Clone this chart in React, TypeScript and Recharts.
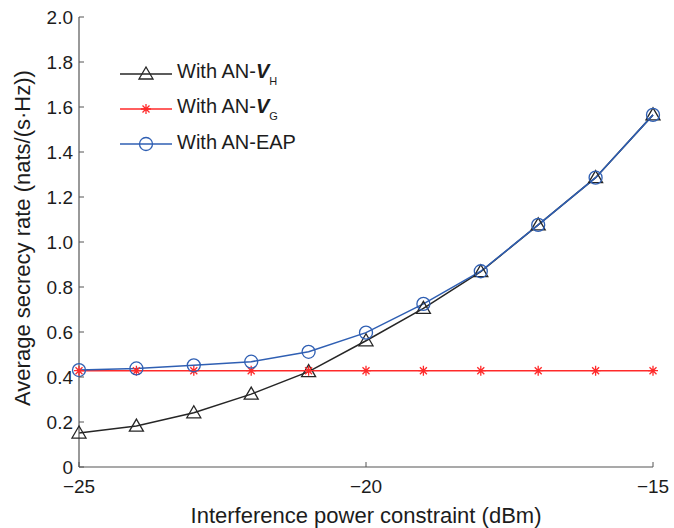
import React from 'react'
import { LineChart, Line, XAxis, YAxis, Legend, Label } from 'recharts'

const powerDbm = [-25, -24, -23, -22, -21, -20, -19, -18, -17, -16, -15]
const rateVH = [0.151, 0.182, 0.241, 0.324, 0.424, 0.561, 0.705, 0.868, 1.076, 1.286, 1.565]
const rateVG = [0.428, 0.428, 0.428, 0.428, 0.428, 0.428, 0.428, 0.428, 0.428, 0.428, 0.428]
const rateEAP = [0.431, 0.438, 0.452, 0.468, 0.512, 0.597, 0.725, 0.870, 1.076, 1.286, 1.565]

const xTicks = [-25, -20, -15]
const yTicks = [0, 0.2, 0.4, 0.6, 0.8, 1.0, 1.2, 1.4, 1.6, 1.8, 2.0]

const FONT = "'Liberation Sans', Arial, Helvetica, sans-serif"
const INK = '#1c1c1c'
const AXIS = '#555'
const BLACK = '#262626'
const RED = '#ff2a2a'
const BLUE = '#2f5fb3'

const data = powerDbm.map((p, i) => ({ p, vh: rateVH[i], vg: rateVG[i], eap: rateEAP[i] }))

const fmtX = (v: number) => (v < 0 ? '\u2212' + Math.abs(v) : String(v))
const fmtY = (v: number) => (v === 0 ? '0' : v.toFixed(1))

const LeftTick = ({ x, y, payload }: any) => (
  <g>
    <line x1={x + 6} x2={x + 11} y1={y} y2={y} stroke={AXIS} strokeWidth={1} />
    <text x={x} y={y} dy="0.36em" textAnchor="end" fontSize={19} fontFamily={FONT} fill={INK}>
      {fmtY(payload.value)}
    </text>
  </g>
)

const BottomTick = ({ x, y, payload }: any) => (
  <g>
    <line x1={x} x2={x} y1={y - 8} y2={y - 13} stroke={AXIS} strokeWidth={1} />
    <text x={x} y={y} dy="0.95em" textAnchor="middle" fontSize={19} fontFamily={FONT} fill={INK}>
      {fmtX(payload.value)}
    </text>
  </g>
)

const TopTick = ({ x, y }: any) => <line x1={x} x2={x} y1={y} y2={y + 5} stroke={AXIS} strokeWidth={1} />
const RightTick = ({ x, y }: any) => <line x1={x - 5} x2={x} y1={y} y2={y} stroke={AXIS} strokeWidth={1} />

const triangle = (cx: number, cy: number, color: string) =>
  `M${cx},${cy - 7} L${cx - 7},${cy + 5} L${cx + 7},${cy + 5} Z`

const TriangleDot = (props: any) => {
  const { cx, cy, index } = props
  if (cx == null || cy == null) return <g key={`t${index}`} />
  return <path key={`t${index}`} d={triangle(cx, cy, BLACK)} fill="none" stroke={BLACK} strokeWidth={1.3} />
}

const CircleDot = (props: any) => {
  const { cx, cy, index } = props
  if (cx == null || cy == null) return <g key={`c${index}`} />
  return <circle key={`c${index}`} cx={cx} cy={cy} r={6.5} fill="none" stroke={BLUE} strokeWidth={1.3} />
}

const starPath = (cx: number, cy: number) => {
  const r = 5
  const d = r * 0.7
  return `M${cx - r},${cy} L${cx + r},${cy} M${cx},${cy - r} L${cx},${cy + r} M${cx - d},${cy - d} L${cx + d},${cy + d} M${cx - d},${cy + d} L${cx + d},${cy - d}`
}

const StarDot = (props: any) => {
  const { cx, cy, index } = props
  if (cx == null || cy == null) return <g key={`s${index}`} />
  return <path key={`s${index}`} d={starPath(cx, cy)} fill="none" stroke={RED} strokeWidth={1.3} />
}

const legendRows = [
  { key: 'vh', color: BLACK, marker: 'tri', base: 'With AN-', v: true, sub: 'H' },
  { key: 'vg', color: RED, marker: 'star', base: 'With AN-', v: true, sub: 'G' },
  { key: 'eap', color: BLUE, marker: 'circle', base: 'With AN-EAP', v: false, sub: '' },
]

const LegendBox = () => (
  <div style={{ fontFamily: FONT, fontSize: 20, color: INK }}>
    {legendRows.map((r) => (
      <div key={r.key} style={{ display: 'flex', alignItems: 'center', height: 35 }}>
        <svg width={52} height={20} style={{ marginRight: 5 }}>
          <line x1={0} x2={52} y1={10} y2={10} stroke={r.color} strokeWidth={1.5} />
          {r.marker === 'tri' && <path d={triangle(26, 10, BLACK)} fill="none" stroke={BLACK} strokeWidth={1.3} />}
          {r.marker === 'star' && <path d={starPath(26, 10)} fill="none" stroke={RED} strokeWidth={1.3} />}
          {r.marker === 'circle' && <circle cx={26} cy={10} r={6.5} fill="none" stroke={BLUE} strokeWidth={1.3} />}
        </svg>
        <span style={{ lineHeight: '20px', marginTop: -3 }}>
          {r.base}
          {r.v && <b><i>V</i></b>}
          {r.sub && <span style={{ fontSize: 11, position: 'relative', top: 7 }}>{r.sub}</span>}
        </span>
      </div>
    ))}
  </div>
)

export default function App() {
  return (
    <div style={{ position: 'absolute', left: 0, top: 0, background: '#fff' }}>
      <LineChart width={674} height={528} data={data} margin={{ top: 17, right: 21, bottom: 0, left: 0 }}>
        <XAxis
          dataKey="p"
          type="number"
          domain={[-25, -15]}
          ticks={xTicks}
          height={61}
          tickSize={0}
          tickMargin={8}
          tickLine={false}
          tick={<BottomTick />}
          axisLine={{ stroke: AXIS, strokeWidth: 1.2 }}
        >
          <Label
            content={({ viewBox }: any) => (
              <text
                x={viewBox.x + viewBox.width / 2}
                y={viewBox.y + 56}
                textAnchor="middle"
                fontSize={22}
                fontFamily={FONT}
                fill={INK}
              >
                Interference power constraint (dBm)
              </text>
            )}
          />
        </XAxis>
        <XAxis
          xAxisId="top"
          dataKey="p"
          orientation="top"
          type="number"
          domain={[-25, -15]}
          ticks={xTicks}
          height={0}
          tickSize={0}
          tickMargin={0}
          tickLine={false}
          tick={<TopTick />}
          axisLine={{ stroke: AXIS, strokeWidth: 1.2 }}
        />
        <YAxis
          type="number"
          domain={[0, 2]}
          ticks={yTicks}
          width={79}
          tickSize={0}
          tickMargin={6}
          tickLine={false}
          tick={<LeftTick />}
          axisLine={{ stroke: AXIS, strokeWidth: 1.2 }}
        >
          <Label
            content={({ viewBox }: any) => {
              const cx = 22
              const cy = viewBox.y + viewBox.height / 2 - 4
              return (
                <text
                  x={cx}
                  y={cy}
                  dy="0.35em"
                  textAnchor="middle"
                  transform={`rotate(-90, ${cx}, ${cy})`}
                  fontSize={22}
                  fontFamily={FONT}
                  fill={INK}
                >
                  Average secrecy rate (nats/(s·Hz))
                </text>
              )
            }}
          />
        </YAxis>
        <YAxis
          yAxisId="right"
          orientation="right"
          type="number"
          domain={[0, 2]}
          ticks={yTicks}
          width={0}
          tickSize={0}
          tickMargin={0}
          tickLine={false}
          tick={<RightTick />}
          axisLine={{ stroke: AXIS, strokeWidth: 1.2 }}
        />
        <Legend
          layout="vertical"
          align="center"
          verticalAlign="middle"
          wrapperStyle={{ left: 120, top: 56, width: 'auto', height: 'auto' }}
          content={<LegendBox />}
        />
        <Line
          dataKey="vh"
          stroke={BLACK}
          strokeWidth={1.5}
          dot={TriangleDot}
          activeDot={false}
          isAnimationActive={false}
        />
        <Line
          dataKey="vg"
          stroke={RED}
          strokeWidth={1.5}
          dot={StarDot}
          activeDot={false}
          isAnimationActive={false}
        />
        <Line
          dataKey="eap"
          stroke={BLUE}
          strokeWidth={1.5}
          dot={CircleDot}
          activeDot={false}
          isAnimationActive={false}
        />
      </LineChart>
    </div>
  )
}
